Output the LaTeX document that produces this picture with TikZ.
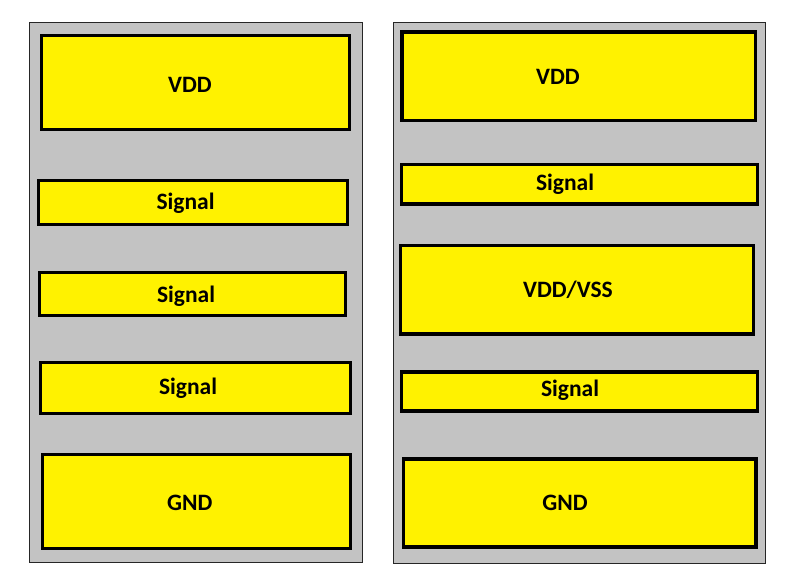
\documentclass[tikz,border=0pt]{standalone}
\usepackage{fontspec}
\setmainfont{Carlito}
\usepackage{tikz}

\definecolor{padyellow}{RGB}{255,242,0}
\definecolor{panelgray}{RGB}{195,195,195}

\tikzset{
  panel/.style={fill=panelgray, draw=black!85, line width=1pt},
  pad/.style={fill=padyellow, draw=black, line width=3.2pt},
  lbl/.style={font=\bfseries\fontsize{23.5}{28}\selectfont, anchor=base, inner sep=0pt}
}

\begin{document}
\begin{tikzpicture}[x=1pt, y=-1pt]

   \useasboundingbox (0,0) rectangle (791,580);

   % left stack
   \filldraw[panel] (29.5,22.5) rectangle (362.5,562.5);
   \filldraw[pad] (41.5,35.5) rectangle (349.5,129.5);
   \filldraw[pad] (38.5,180.5) rectangle (347.5,224.5);
   \filldraw[pad] (39.5,272.5) rectangle (345.5,315.5);
   \filldraw[pad] (40.5,362.5) rectangle (350.5,413.5);
   \filldraw[pad] (42.5,454.5) rectangle (350.5,548.5);

   \node[lbl] (lvdd) at (190,92.3) {VDD};
   \node[lbl] (lsiga) at (185.5,209.3) {Signal};
   \node[lbl] (lsigb) at (186,302.7) {Signal};
   \node[lbl] (lsigc) at (188,394.3) {Signal};
   \node[lbl] (lgnd) at (189.7,510.7) {GND};

   % right stack
   \filldraw[panel] (393.5,22.5) rectangle (765.5,563.5);
   \filldraw[pad] (402,32) rectangle (755.5,120.5);
   \filldraw[pad] (401.5,164.5) rectangle (757.5,204);
   \filldraw[pad] (400.5,245.5) rectangle (753.5,334);
   \filldraw[pad] (401.5,372) rectangle (757.5,411);
   \filldraw[pad] (403.5,459) rectangle (756,547);

   \node[lbl] (rvdd) at (558,85) {VDD};
   \node[lbl] (rsiga) at (565,190) {Signal};
   \node[lbl] (rvss) at (568,297.7) {VDD/VSS};
   \node[lbl] (rsigb) at (570,396.7) {Signal};
   \node[lbl] (rgnd) at (565,510) {GND};

\end{tikzpicture}
\end{document}
